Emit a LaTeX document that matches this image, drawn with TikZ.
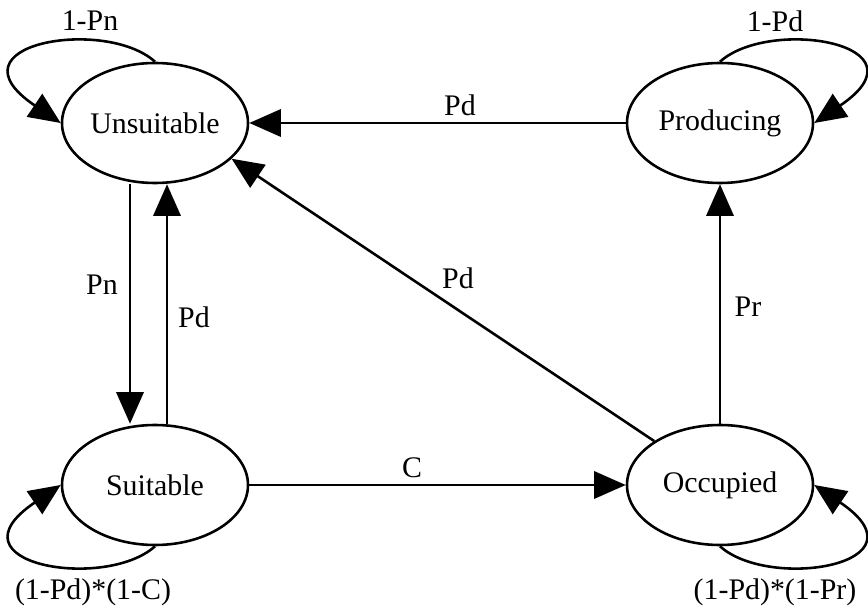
\documentclass[tikz,border=0pt]{standalone}
\usepackage{fontspec}
\setmainfont{Liberation Serif}
\usetikzlibrary{arrows.meta,shapes.geometric}

\tikzset{
  state/.style={ellipse, draw, line width=2.2pt, minimum width=5.58cm, minimum height=3.6cm, inner sep=0pt},
  arr/.style={line width=2.2pt, -{Triangle[length=0.95cm, width=0.82cm]}},
  lbl/.style={inner sep=0pt}
}

\begin{document}
\begin{tikzpicture}[x=0.03cm,y=0.03cm,font=\fontsize{25.5}{30}\selectfont]
  \useasboundingbox (0,0) rectangle (868,608);
  % states
  \node[state] (uns)  at (155,485) {Unsuitable};
  \node[state] (prod) at (720,485) {Producing};
  \node[state] (suit) at (155,123) {Suitable};
  \node[state] (occ)  at (720,123) {Occupied};
  % transitions between states
  \draw[arr] (prod) -- (uns);
  \draw[arr] (occ) -- (uns.-25);
  \draw[arr] ([xshift=-0.75cm]uns.south) -- ([xshift=-0.75cm]suit.north);
  \draw[arr] ([xshift=0.36cm]suit.north) -- ([xshift=0.36cm]uns.south);
  \draw[arr] (suit) -- (occ);
  \draw[arr] (occ) -- (prod);
  % self loops
  \draw[arr] (uns.north) .. controls +(-50,45) and +(-117,79) .. (uns.west);
  \draw[arr] (prod.north) .. controls +(50,45) and +(117,79) .. (prod.east);
  \draw[arr] (suit.south) .. controls +(-50,-45) and +(-117,-79) .. (suit.west);
  \draw[arr] (occ.south) .. controls +(50,-45) and +(117,-79) .. (occ.east);
  % probabilities
  \node[lbl] (lpdtop) at (460,503) {Pd};
  \node[lbl] (lpddiag) at (458,330) {Pd};
  \node[lbl] (lpn) at (102,323) {Pn};
  \node[lbl] (lpdleft) at (194,291) {Pd};
  \node[lbl] (lc) at (412,140) {C};
  \node[lbl] (lpr) at (748,301) {Pr};
  \node[lbl] (lloopu) at (90,587) {1-Pn};
  \node[lbl] (lloopp) at (775,587) {1-Pd};
  \node[lbl] (lloops) at (93,16) {(1-Pd)*(1-C)};
  \node[lbl] (lloopo) at (775,16) {(1-Pd)*(1-Pr)};
\end{tikzpicture}
\end{document}
